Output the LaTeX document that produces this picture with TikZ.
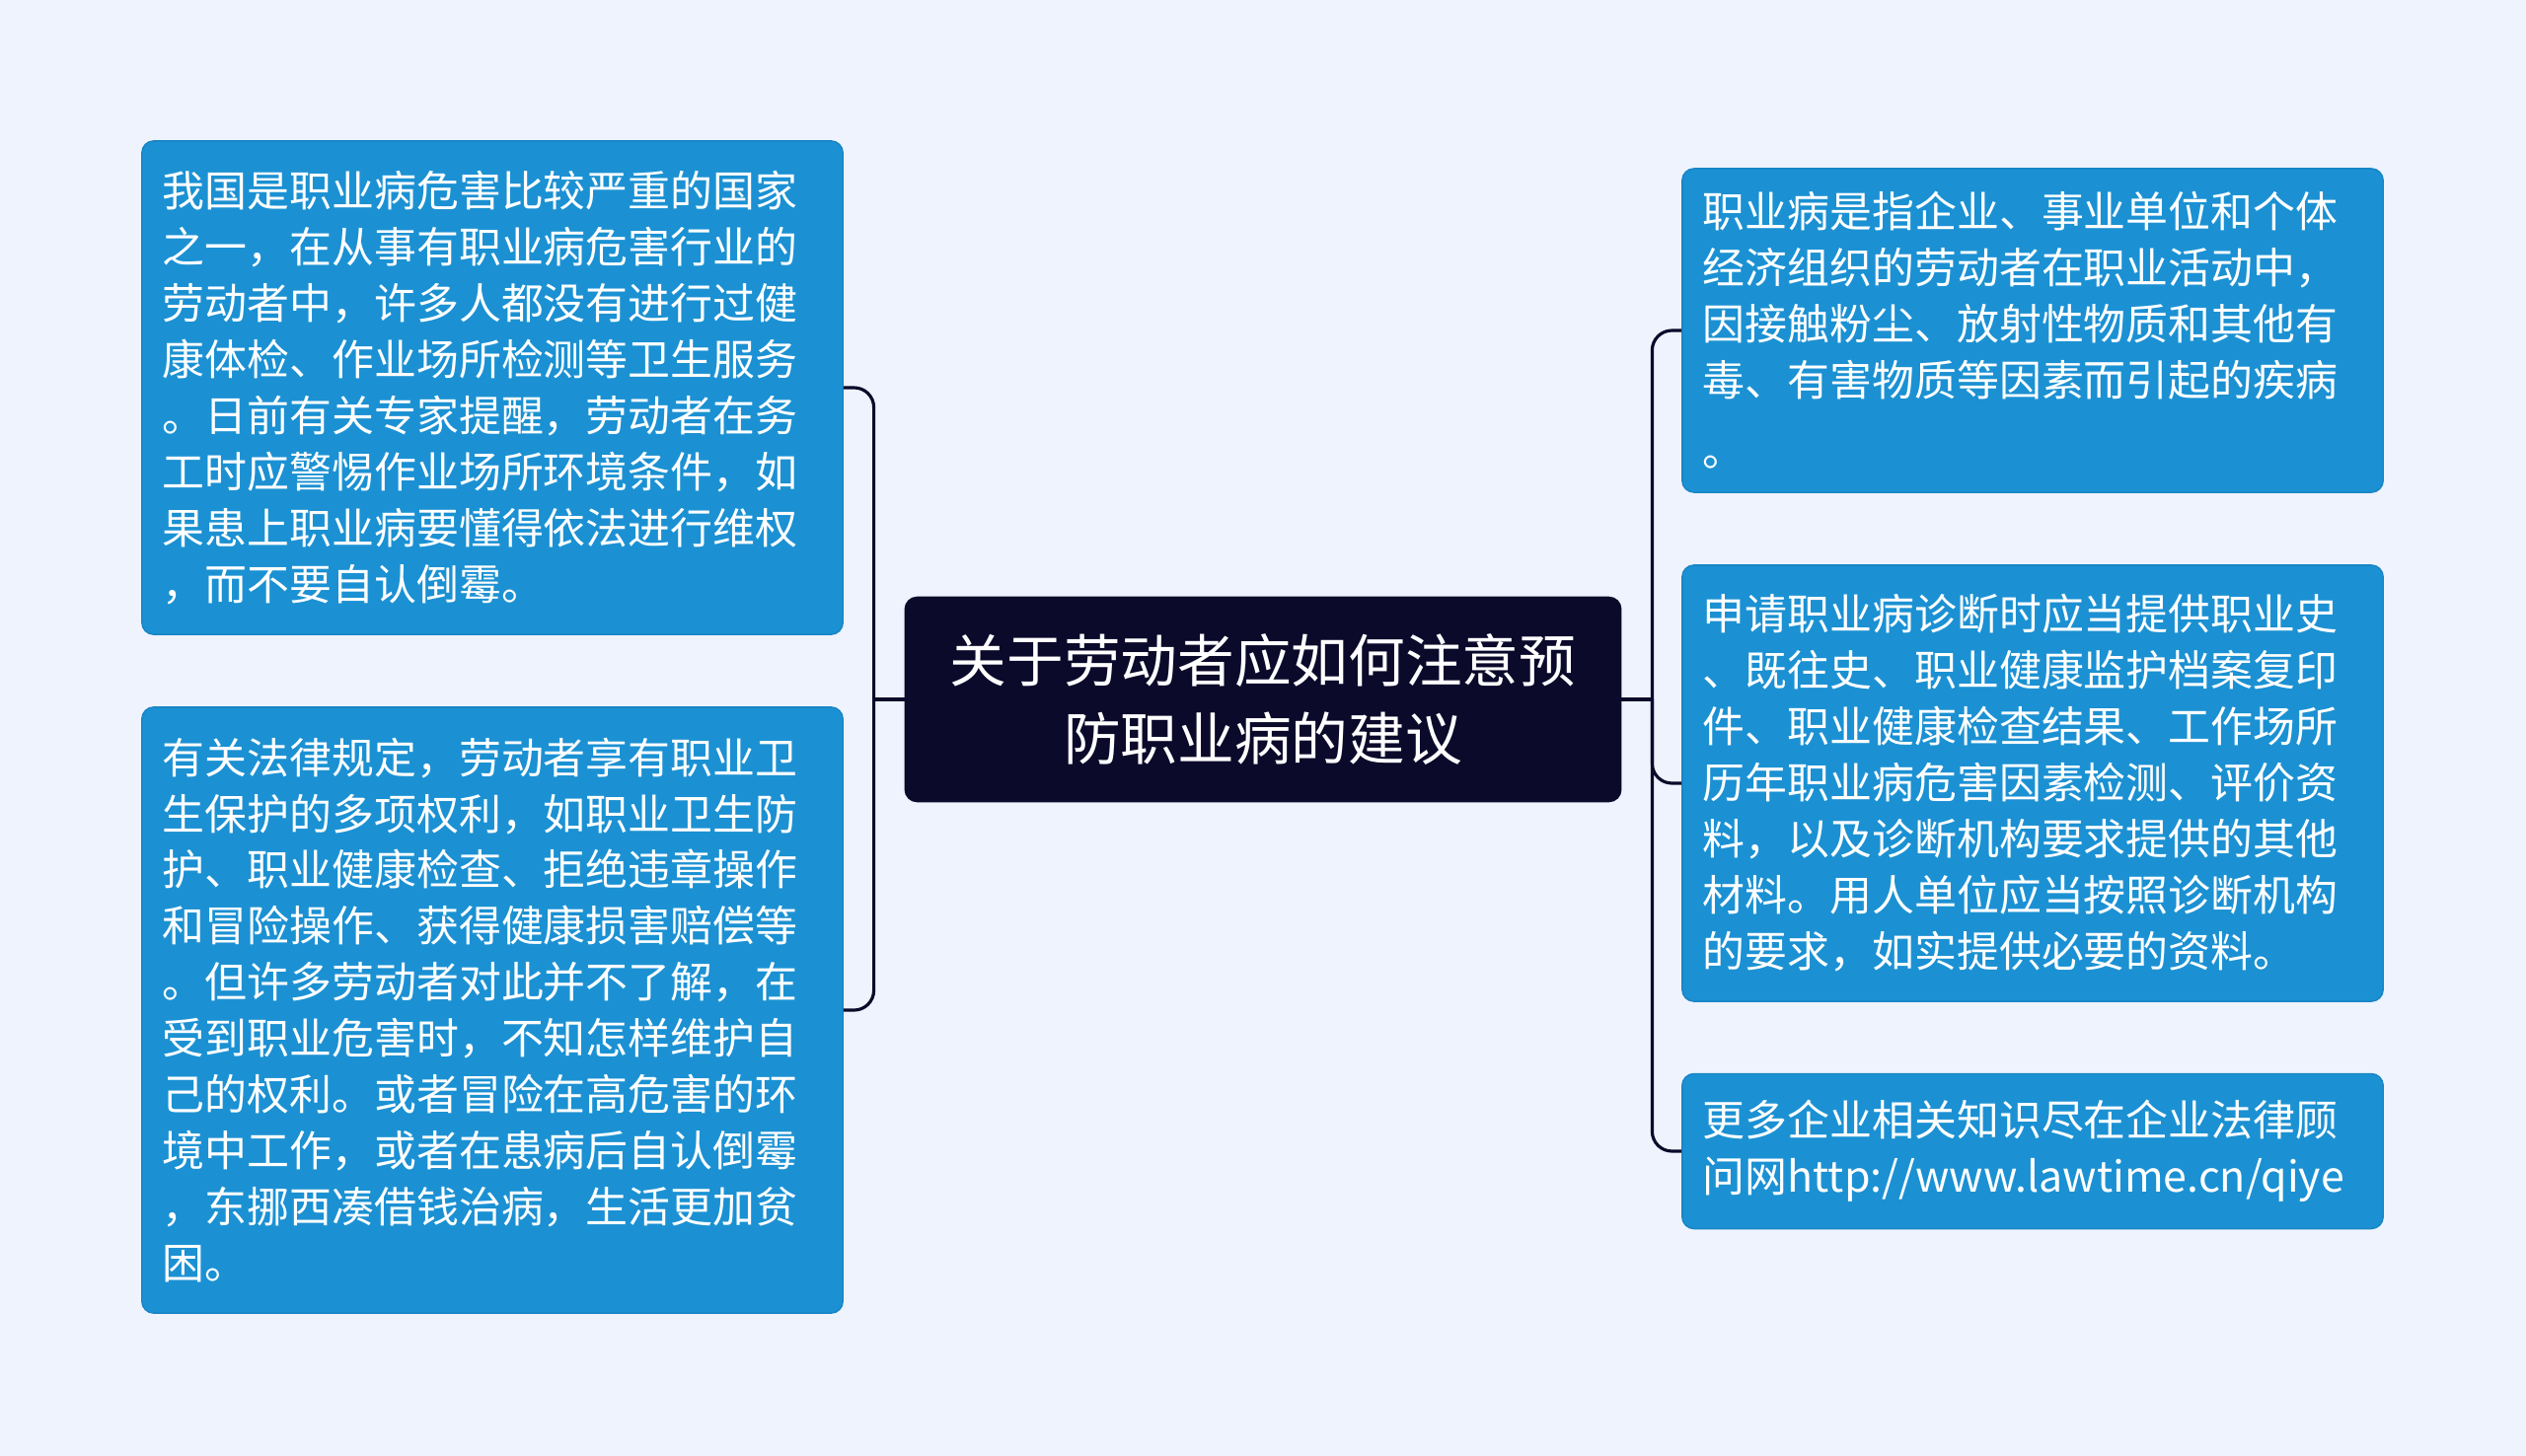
\documentclass[tikz,border=0pt]{standalone}
\usepackage{fontspec}
\setmainfont{Noto Sans CJK SC}
\definecolor{bgcol}{HTML}{EEF3FD}
\definecolor{boxblue}{HTML}{1B91D3}
\definecolor{boxedge}{HTML}{1784C4}
\definecolor{titlecol}{HTML}{0C0A2B}
\tikzset{
  topic/.style={draw=titlecol,fill=titlecol,text=white,rounded corners=0.12cm,
    align=center,minimum width=7.25cm,minimum height=2.07cm,
    font=\fontsize{16.4}{22.2}\selectfont},
  note/.style={draw=boxedge,fill=boxblue,text=white,rounded corners=0.12cm,
    align=left,text width=6.68cm,inner xsep=0.21cm,
    font=\fontsize{12.2}{16.2}\selectfont},
  link/.style={draw=titlecol,line width=0.9pt,rounded corners=0.2cm}
}
\begin{document}
\begin{tikzpicture}[x=0.01cm,y=-0.01cm]
  \fill[bgcol] (0,0) rectangle (2560,1476);
  \useasboundingbox (0,0) rectangle (2560,1476);
  % central topic
  \node[topic] (title) at (1280,709) {关于劳动者应如何注意预\\防职业病的建议};
  % left notes
  \node[note,minimum height=5.0cm] (L1) at (499,393) {我国是职业病危害比较严重的国家\\之一，在从事有职业病危害行业的\\劳动者中，许多人都没有进行过健\\康体检、作业场所检测等卫生服务\\。日前有关专家提醒，劳动者在务\\工时应警惕作业场所环境条件，如\\果患上职业病要懂得依法进行维权\\，而不要自认倒霉。};
  \node[note,minimum height=6.14cm] (L2) at (499,1024) {有关法律规定，劳动者享有职业卫\\生保护的多项权利，如职业卫生防\\护、职业健康检查、拒绝违章操作\\和冒险操作、获得健康损害赔偿等\\。但许多劳动者对此并不了解，在\\受到职业危害时，不知怎样维护自\\己的权利。或者冒险在高危害的环\\境中工作，或者在患病后自认倒霉\\，东挪西凑借钱治病，生活更加贫\\困。};
  % right notes
  \node[note,minimum height=3.28cm] (R1) at (2060,335) {职业病是指企业、事业单位和个体\\经济组织的劳动者在职业活动中，\\因接触粉尘、放射性物质和其他有\\毒、有害物质等因素而引起的疾病\\[4pt]。};
  \node[note,minimum height=4.42cm] (R2) at (2060,794) {申请职业病诊断时应当提供职业史\\、既往史、职业健康监护档案复印\\件、职业健康检查结果、工作场所\\历年职业病危害因素检测、评价资\\料，以及诊断机构要求提供的其他\\材料。用人单位应当按照诊断机构\\的要求，如实提供必要的资料。};
  \node[note,minimum height=1.57cm] (R3) at (2060,1167) {更多企业相关知识尽在企业法律顾\\问网http://www.lawtime.cn/qiye};
  % connectors
  \draw[link] (title.west) -- ++(-31,0) coordinate (jl);
  \draw[link] (jl) |- (L1.east);
  \draw[link] (jl) |- (L2.east);
  \draw[link] (title.east) -- ++(31,0) coordinate (jr);
  \draw[link] (jr) |- (R1.west);
  \draw[link] (jr) |- (R2.west);
  \draw[link] (jr) |- (R3.west);
\end{tikzpicture}
\end{document}
